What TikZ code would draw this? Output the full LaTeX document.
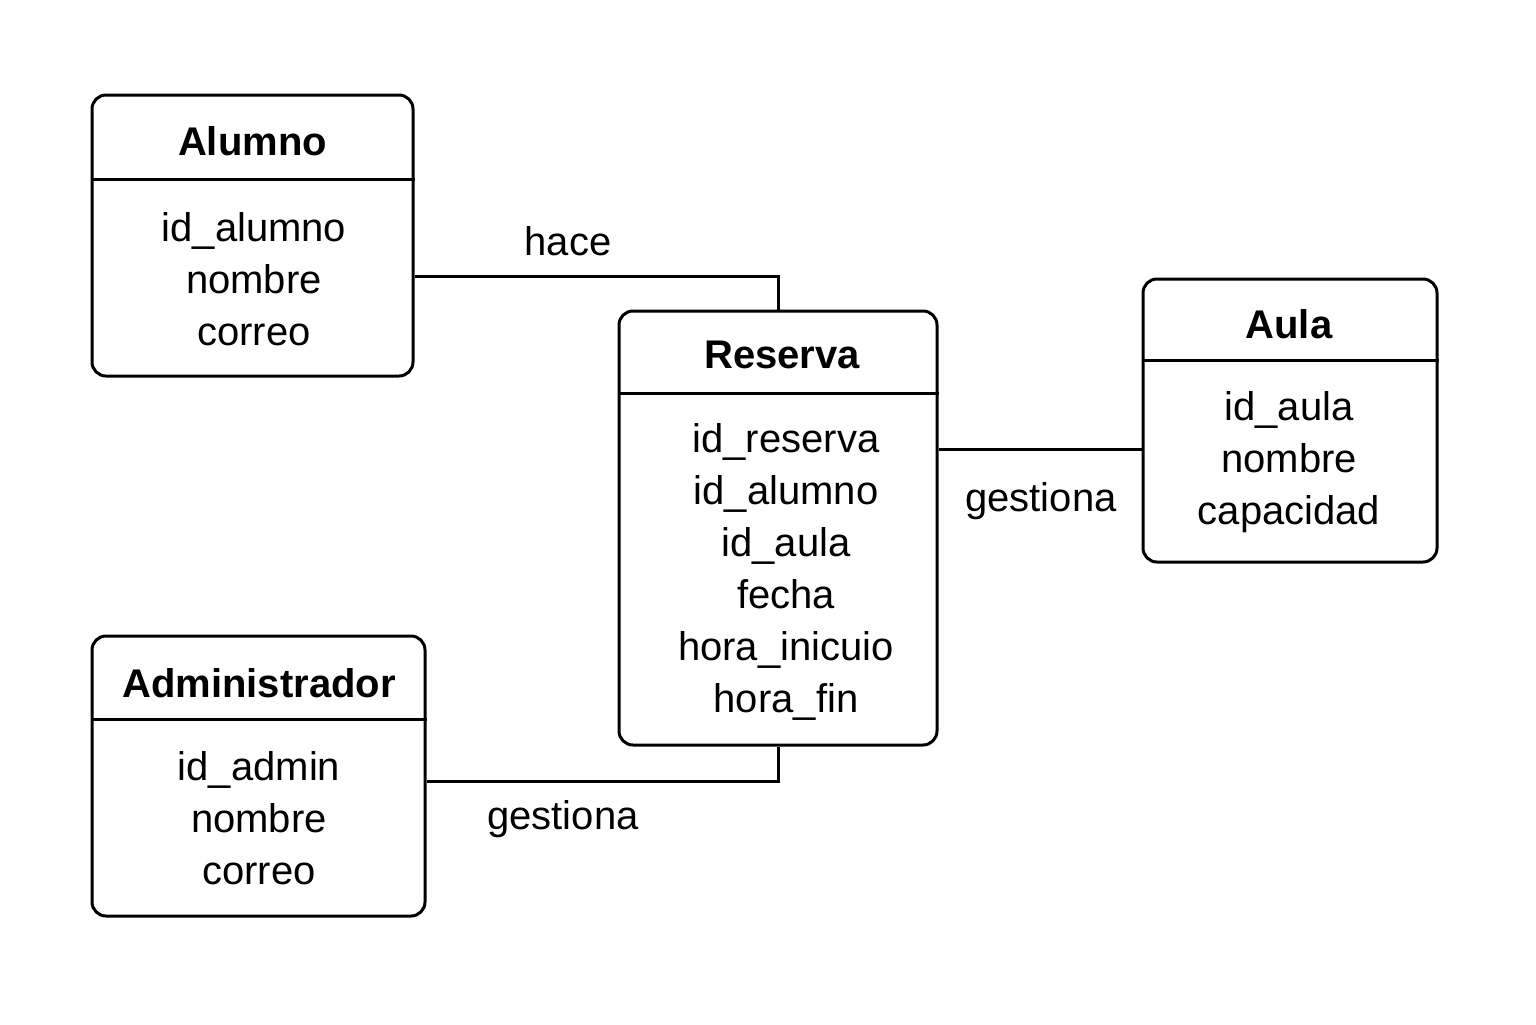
\documentclass[tikz,border=0pt]{standalone}
\usepackage{fontspec}
\setmainfont{Liberation Sans}
\begin{document}
\begin{tikzpicture}[x=0.5pt,y=-0.5pt,
  entity/.style={draw, line width=1.5pt, rounded corners=7pt, inner sep=0pt},
  title/.style={font=\fontsize{20}{24}\selectfont\bfseries, inner sep=0pt},
  attrs/.style={font=\fontsize{20}{26}\selectfont, align=center, inner sep=0pt},
  rel/.style={font=\fontsize{20}{24}\selectfont, inner sep=0pt},
  conn/.style={line width=1.5pt}]
\useasboundingbox (0,0) rectangle (1536,1024);
\fill[white] (0,0) rectangle (1536,1024);

% Alumno
\node[entity, minimum width=160.5pt, minimum height=140.5pt] (alumno) at (252.5,235.5) {};
\draw[conn] ([yshift=-43pt]alumno.north west) -- ([yshift=-43pt]alumno.north east);
\node[title] (alumnot) at (252.5,141) {Alumno};
\node[attrs] (alumnoa) at (254,279) {id\_alumno\\nombre\\correo};

% Reserva
\node[entity, minimum width=159pt, minimum height=217pt] (reserva) at (778,528) {};
\draw[conn] ([yshift=-42pt]reserva.north west) -- ([yshift=-42pt]reserva.north east);
\node[title] (reservat) at (782,355) {Reserva};
\node[attrs] (reservaa) at (786,572) {id\_reserva\\id\_alumno\\id\_aula\\fecha\\hora\_inicuio\\hora\_fin};

% Aula
\node[entity, minimum width=147pt, minimum height=141.5pt] (aula) at (1290,420.5) {};
\draw[conn] ([yshift=-41.5pt]aula.north west) -- ([yshift=-41.5pt]aula.north east);
\node[title] (aulat) at (1289,324) {Aula};
\node[attrs] (aulaa) at (1289,462) {id\_aula\\nombre\\capacidad};

% Administrador
\node[entity, minimum width=166.5pt, minimum height=140pt] (admin) at (258.5,776) {};
\draw[conn] ([yshift=-42.5pt]admin.north west) -- ([yshift=-42.5pt]admin.north east);
\node[title] (admint) at (259,683) {Administrador};
\node[attrs] (admina) at (259,818) {id\_admin\\nombre\\correo};

% connectors
\draw[conn] ([yshift=-20.25pt]alumno.east) -| (reserva.north);
\draw[conn] ([yshift=39.5pt]reserva.east) coordinate (r1) -- (r1 -| aula.west);
\draw[conn] (reserva.south) |- ([yshift=-2.5pt]admin.east);

\node[rel] (hace) at (568,241) {hace};
\node[rel] (gest1) at (1041,501) {gestiona};
\node[rel] (gest2) at (563,819) {gestiona};
\end{tikzpicture}
\end{document}
